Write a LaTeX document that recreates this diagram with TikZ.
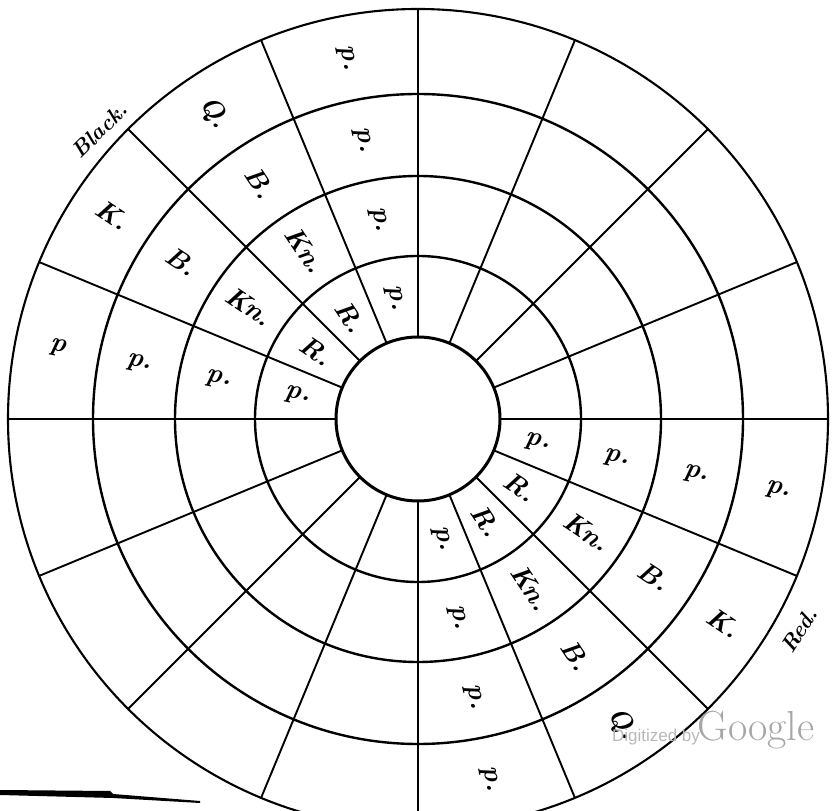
\documentclass[tikz,border=0pt]{standalone}
\usepackage{fontspec}
\setmainfont{Latin Modern Roman}
\newfontfamily\wmfont{Liberation Sans}
\begin{document}
\begin{tikzpicture}[x=1pt,y=1pt,
  ringline/.style={line width=2.4pt},
  radline/.style={line width=1.9pt},
  lab/.style={font=\fontsize{27}{27}\selectfont\bfseries\itshape, inner sep=0pt},
  side/.style={font=\fontsize{22}{22}\selectfont\bfseries\itshape, inner sep=0pt}]
\useasboundingbox (0,0) rectangle (834,810);
\coordinate (O) at (418,391);
\begin{scope}
\clip (0,0) rectangle (834,810);
\begin{scope}[shift={(O)}]
  \draw[line width=3pt] (0,0) circle (82);
  \foreach \r in {163,243,325} \draw[ringline] (0,0) circle (\r);
  \draw[line width=2.1pt] (0,0) circle (410);
  \foreach \a [count=\k] in {0,22.5,...,337.5} {
    \coordinate (in\k) at (\a:82);
    \coordinate (out\k) at (\a:410);
    \draw[radline] (in\k) -- (out\k);
  }
  % Black side (upper left), text reads toward the centre
  \foreach \a/\la/\lb/\lc/\ld [count=\i] in
     {101.25/p./p./p./p.,
      123.75/R./Kn./B./Q.,
      146.25/R./Kn./B./K.,
      168.75/p./p./p./p} {
    \node[lab, rotate=\a-180] (b\i a) at (\a:122.5) {\la};
    \node[lab, rotate=\a-180] (b\i b) at (\a:203) {\lb};
    \node[lab, rotate=\a-180] (b\i c) at (\a:284) {\lc};
    \node[lab, rotate=\a-180] (b\i d) at (\a:367.5) {\ld};
  }
  % Red side (lower right), text reads away from the centre
  \foreach \a/\la/\lb/\lc/\ld [count=\i] in
     {-11.25/p./p./p./p.,
      -33.75/R./Kn./B./K.,
      -56.25/R./Kn./B./Q.,
      -78.75/p./p./p./p.} {
    \node[lab, rotate=\a] (r\i a) at (\a:122.5) {\la};
    \node[lab, rotate=\a] (r\i b) at (\a:203) {\lb};
    \node[lab, rotate=\a] (r\i c) at (\a:284) {\lc};
    \node[lab, rotate=\a] (r\i d) at (\a:367.5) {\ld};
  }
  \node[side, rotate=45] (black) at (137.8:430) {Black.};
  \node[side, rotate=57] (red) at (-29:436) {Red.};
\end{scope}
% scan mark, bottom left
\fill (0,20) -- (110,19) -- (113,16) -- (200,9) -- (200,7) -- (113,12) -- (0,15) -- cycle;
% watermark
\node[font=\wmfont\fontsize{17}{17}\selectfont, text=black!28, inner sep=0pt] (wm1) at (656,73) {Digitized by};
\node[font=\fontsize{42}{42}\selectfont, text=black!35, inner sep=0pt] (wm2) at (756,80) {Google};
\end{scope}
\end{tikzpicture}
\end{document}
